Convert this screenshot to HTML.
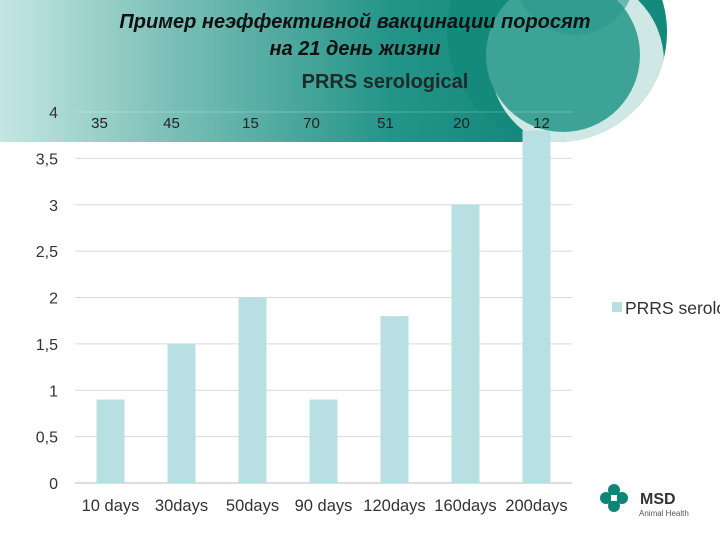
<!DOCTYPE html>
<html><head><meta charset="utf-8"><style>
body{margin:0;width:720px;height:540px;overflow:hidden;background:#fff;font-family:"Liberation Sans",sans-serif}
svg{display:block}
</style></head><body>
<svg width="720" height="540">
<defs>
<linearGradient id="g" x1="0" x2="1" y1="0" y2="0">
<stop offset="0" stop-color="#c5e6e3"/><stop offset="0.3" stop-color="#7cc0b8"/><stop offset="0.7" stop-color="#239488"/><stop offset="1" stop-color="#118679"/>
</linearGradient>
<clipPath id="cp"><circle cx="557" cy="32" r="110"/><rect x="0" y="0" width="560" height="142"/></clipPath>
</defs>
<g>
<rect x="0" y="0" width="560" height="142" fill="url(#g)"/>
<circle cx="557" cy="32" r="110" fill="#138a7c"/>
<g clip-path="url(#cp)">
<circle cx="577" cy="62" r="87" fill="#cfe7e5"/>
<circle cx="563" cy="55" r="77" fill="#3da397"/>
<circle cx="575" cy="-25" r="60" fill="#2a998c" opacity="0.6"/>
</g>
</g>
<text x="355" y="28" text-anchor="middle" font-size="20" font-style="italic" font-weight="bold" fill="#111">Пример неэффективной вакцинации поросят</text>
<text x="355" y="55" text-anchor="middle" font-size="20" font-style="italic" font-weight="bold" fill="#111">на 21 день жизни</text>
<text x="385" y="88" text-anchor="middle" font-size="20" font-weight="bold" fill="#1e2a28">PRRS serological</text>
<g id="grid"></g><g id="bars"></g><g id="labels"></g>
<rect x="612" y="302" width="10" height="10" fill="#b8e0e2"/>
<text x="625" y="314" font-size="17.5" fill="#333">PRRS serological</text>
<g>
<circle cx="614" cy="490" r="6" fill="#0f8578"/><circle cx="614" cy="506" r="6" fill="#0f8578"/>
<circle cx="606" cy="498" r="6" fill="#0f8578"/><circle cx="622" cy="498" r="6" fill="#0f8578"/>
<rect x="611" y="495" width="6" height="6" fill="#fff"/>
<text x="640" y="504" font-size="16" font-weight="bold" fill="#333">MSD</text>
<text x="639" y="516" font-size="8" fill="#555">Animal Health</text>
</g>
</svg>
<script>
const categories=["10 days","30days","50days","90 days","120days","160days","200days"];
const values=[0.9,1.5,2,0.9,1.8,3,3.8];
const counts=["35","45","15","70","51","20","12"];
const yTicks=["0","0,5","1","1,5","2","2,5","3","3,5","4"];
const NS="http://www.w3.org/2000/svg";
const x0=75,x1=572,yb=483,yt=112,ymax=4;
const countDx=[-11,-10,-2,-12,-9,-4,5];
const y=v=>yb-(v/ymax)*(yb-yt);
const bw=(x1-x0)/categories.length;
const xc=i=>x0+bw*(i+0.5);
function mk(tag,attrs,parent,txt){const e=document.createElementNS(NS,tag);for(const k in attrs)e.setAttribute(k,attrs[k]);if(txt!=null)e.textContent=txt;document.getElementById(parent).appendChild(e);return e;}
yTicks.forEach((t,i)=>{const v=i*0.5;
 const l=mk('line',{x1:x0,x2:x1,y1:y(v),y2:y(v),stroke:i==0?'#bbb':(i==yTicks.length-1?'rgba(255,255,255,0.25)':'#d9d9d9'),'stroke-width':1},'grid');
 
 
 const tx=mk('text',{x:58,y:y(v)+6,'text-anchor':'end','font-size':16,fill:'#333'},'labels',t);
 
 
});
categories.forEach((c,i)=>{
 const b=mk('rect',{x:xc(i)-14,y:y(values[i]),width:28,height:yb-y(values[i]),fill:'#b8e0e2'},'bars');
 
 
 const t=mk('text',{x:xc(i),y:511,'text-anchor':'middle','font-size':16.5,fill:'#333'},'labels',c);
 
 
 const n=mk('text',{x:xc(i)+countDx[i],y:128,'text-anchor':'middle','font-size':15,fill:'#222'},'labels',counts[i]);
 
 
});
</script>
</body></html>
